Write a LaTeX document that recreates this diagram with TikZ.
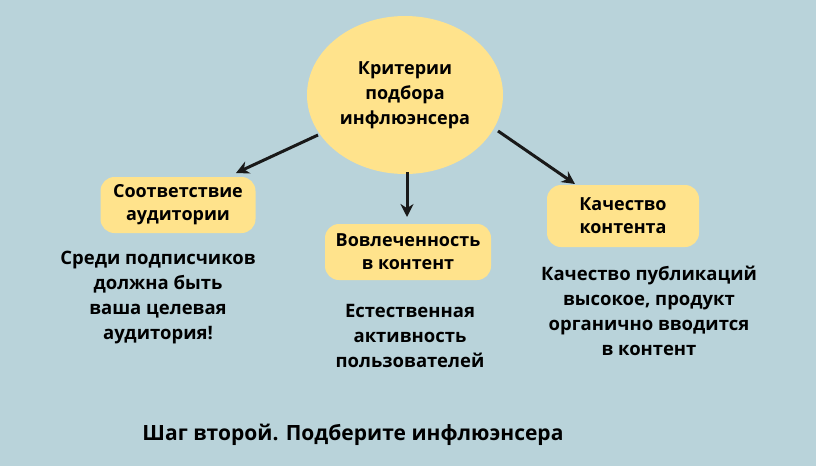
\documentclass[tikz,border=0pt]{standalone}
\usepackage{fontspec}
\setmainfont{Open Sans}
\usetikzlibrary{shapes.geometric,arrows.meta}
\tikzset{
 x=1pt,y=-1pt,
 pill/.style={fill=yellowc,rounded corners=14pt,align=center,font=\bfseries\fontsize{18}{23}\selectfont,inner sep=0pt},
 txt/.style={align=center,font=\bfseries\fontsize{18.5}{25}\selectfont},
 arr/.style={-{Stealth[length=13pt,width=13pt]},line width=3pt,black!90}
}
\definecolor{bgc}{HTML}{B9D3DA}
\definecolor{yellowc}{HTML}{FFE38C}
\begin{document}
\begin{tikzpicture}
\fill[bgc] (0,0) rectangle (816,466);
\useasboundingbox (0,0) rectangle (816,466);
\node[ellipse,fill=yellowc,minimum width=196pt,minimum height=158pt,align=center,font=\bfseries\fontsize{18}{25}\selectfont] (c) at (405,95) {Критерии\\подбора\\инфлюэнсера};
\node[pill,minimum width=155pt,minimum height=56pt] (a) at (178,205) {Соответствие\\аудитории};
\node[pill,minimum width=166pt,minimum height=56pt] (b) at (408,252) {Вовлеченность\\в контент};
\node[pill,minimum width=152pt,minimum height=62pt] (d) at (623,216) {Качество\\контента};
\node[txt] (ta) at (158,298) {Среди подписчиков\\должна быть\\ваша целевая\\аудитория!};
\node[txt] (tb) at (410,336) {Естественная\\активность\\пользователей};
\node[txt] (td) at (649,311) {Качество публикаций\\высокое, продукт\\органично вводится\\в контент};
\node[font=\bfseries\fontsize{21}{24}\selectfont] (t) at (353,435) {Шаг второй. Подберите инфлюэнсера};
\draw[arr] (318,135) -- (236,173);
\draw[arr] (407,172) -- (407,217);
\draw[arr] (498,131) -- (575,184);
\end{tikzpicture}
\end{document}
